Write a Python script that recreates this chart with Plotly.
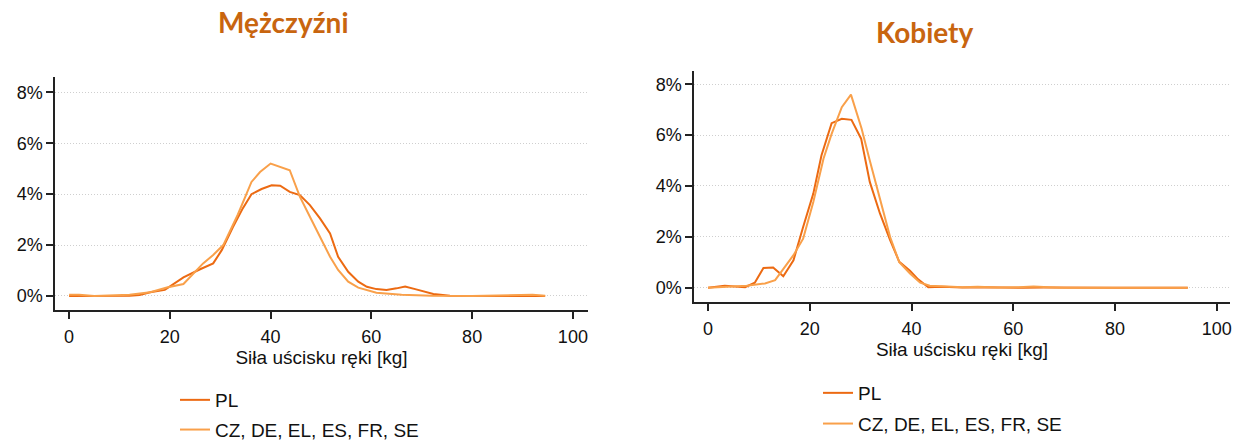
import plotly.graph_objects as go

# ---- Data ----
men_pl_x = [0, 4, 8, 12, 14, 16.1, 19, 22.7, 26, 28.6, 30.3, 32.5, 34.5, 36.2, 38.2, 40.2, 41.9, 43.8,
            45.8, 47.8, 49.8, 51.8, 53.4, 55.4, 57.4, 59.1, 61, 63, 65, 66.7, 68.7, 70.5, 72.3, 75.6,
            80, 86, 90, 94.5]
men_pl_y = [0, 0, 0, 0.01, 0.04, 0.15, 0.24, 0.73, 1.05, 1.28, 1.8, 2.7, 3.45, 4.0, 4.2, 4.35, 4.33, 4.09,
            3.96, 3.57, 3.05, 2.46, 1.54, 0.95, 0.56, 0.36, 0.27, 0.24, 0.3, 0.37, 0.27, 0.18, 0.08, 0.01,
            0, 0, 0.01, 0]

men_oth_x = [0, 2, 5, 8, 12, 16.1, 19.4, 22.7, 26.6, 28.6, 30.6, 33.5, 36.2, 37.9, 40, 43.8, 45.8, 47.8,
             49.8, 51.8, 53.4, 55.4, 57.4, 61, 66, 72, 80, 86, 88, 92, 94.5]
men_oth_y = [0.05, 0.05, 0.0, 0.01, 0.05, 0.15, 0.33, 0.47, 1.28, 1.61, 2.0, 3.2, 4.48, 4.87, 5.2, 4.94, 3.9, 3.11,
             2.33, 1.54, 1.02, 0.56, 0.33, 0.13, 0.05, 0.01, 0, 0.02, 0.05, 0.05, 0.01]

women_pl_x = [0, 3.3, 7.3, 9.2, 10.9, 12.8, 14.8, 16.8, 18.7, 20.7, 22.3, 24.3, 26.3, 28.2, 30.1, 31.8,
              33.8, 35.8, 37.6, 39.7, 41.3, 43.3, 46, 50, 54, 58, 62, 66, 70, 80, 94.3]
women_pl_y = [0, 0.08, 0.02, 0.2, 0.78, 0.8, 0.45, 1.08, 2.39, 3.7, 5.2, 6.47, 6.64, 6.6, 5.86, 4.16,
              2.92, 1.87, 1.02, 0.67, 0.33, 0.02, 0.04, 0.01, 0.02, 0, 0, 0.01, 0, 0, 0]

women_oth_x = [0, 3.3, 7.6, 11.2, 13.2, 16.8, 18.7, 20.7, 22.7, 24.3, 26.3, 28.1, 30.2, 31.8, 33.8, 35.8,
               37.6, 39.7, 41.7, 43.6, 47, 50, 53, 57, 61, 64, 67, 70, 80, 94.3]
women_oth_y = [0, 0.03, 0.08, 0.17, 0.3, 1.28, 1.93, 3.37, 5.07, 6.05, 7.1, 7.59, 6.25, 5.0, 3.5, 1.99,
               1.0, 0.56, 0.2, 0.08, 0.05, 0.02, 0.04, 0.01, 0.02, 0.05, 0.02, 0, 0, 0]

series_names = ["PL", "CZ, DE, EL, ES, FR, SE"]
panel_titles = ["Mężczyźni", "Kobiety"]
x_title = "Siła uścisku ręki [kg]"
x_ticks = [0, 20, 40, 60, 80, 100]
y_ticks = [0, 2, 4, 6, 8]
y_tick_labels = ["0%", "2%", "4%", "6%", "8%"]

# ---- Styling ----
W, H = 1237, 441
PL_COLOR = "#EC6A12"
OTH_COLOR = "#F9A04A"
TITLE_COLOR = "#C8650F"
FONT = "Liberation Sans, Arial, sans-serif"
TXT = "#111111"

fig = go.Figure()

def add(x, y, name, color, xa, ya, legend):
    fig.add_trace(go.Scatter(x=x, y=y, mode="lines", name=name,
                             line=dict(color=color, width=2),
                             xaxis=xa, yaxis=ya, legend=legend,
                             legendgroup=legend + name))

add(men_pl_x, men_pl_y, series_names[0], PL_COLOR, "x", "y", "legend")
add(men_oth_x, men_oth_y, series_names[1], OTH_COLOR, "x", "y", "legend")
add(women_pl_x, women_pl_y, series_names[0], PL_COLOR, "x2", "y2", "legend2")
add(women_oth_x, women_oth_y, series_names[1], OTH_COLOR, "x2", "y2", "legend2")

def px_x(p):
    return p / W

def px_y(p):
    return 1 - p / H

fig.update_layout(
    width=W, height=H, margin=dict(l=0, r=0, t=0, b=0, autoexpand=False),
    paper_bgcolor="white", plot_bgcolor="white",
    font=dict(family=FONT, size=18, color=TXT),
    xaxis=dict(domain=[px_x(55), px_x(588)], range=[-2.8, 103], anchor="y"),
    yaxis=dict(domain=[px_y(310), px_y(77)], range=[-0.55, 8.6], anchor="x"),
    xaxis2=dict(domain=[px_x(694), px_x(1230)], range=[-2.75, 102.6], anchor="y2"),
    yaxis2=dict(domain=[px_y(302), px_y(71)], range=[-0.56, 8.52], anchor="x2"),
    legend=dict(x=px_x(175), y=px_y(381), xanchor="left", yanchor="top",
                traceorder="grouped", tracegroupgap=2,
                font=dict(family=FONT, size=19, color=TXT), bgcolor="rgba(0,0,0,0)"),
    legend2=dict(x=px_x(818), y=px_y(374), xanchor="left", yanchor="top",
                 traceorder="grouped", tracegroupgap=3,
                 font=dict(family=FONT, size=19, color=TXT), bgcolor="rgba(0,0,0,0)"),
    annotations=[
        dict(text=f"<b>{panel_titles[0]}</b>", x=px_x(283), y=px_y(22), xref="paper", yref="paper",
             showarrow=False, xanchor="center", yanchor="middle",
             font=dict(family="Lato, sans-serif", size=28, color=TITLE_COLOR)),
        dict(text=f"<b>{panel_titles[1]}</b>", x=px_x(924), y=px_y(32), xref="paper", yref="paper",
             showarrow=False, xanchor="center", yanchor="middle",
             font=dict(family="Lato, sans-serif", size=28, color=TITLE_COLOR)),
    ],
)

fig.update_xaxes(showline=True, linecolor="#222222", linewidth=1.5, ticks="outside",
                 ticklen=7, tickwidth=1.5, tickcolor="#222222",
                 tickmode="array", tickvals=x_ticks, ticklabelstandoff=3,
                 tickfont=dict(family=FONT, size=18, color=TXT),
                 showgrid=False, zeroline=False,
                 title=dict(text=x_title, font=dict(family=FONT, size=19, color=TXT), standoff=2))
fig.update_yaxes(showline=True, linecolor="#222222", linewidth=1.5, ticks="outside",
                 ticklen=7, tickwidth=1.5, tickcolor="#222222",
                 tickmode="array", tickvals=y_ticks, ticktext=y_tick_labels,
                 tickfont=dict(family=FONT, size=18, color=TXT),
                 showgrid=True, gridcolor="#CFCFCF", griddash="1px,2px", gridwidth=1,
                 zeroline=False)
fig.update_layout(xaxis2_title_standoff=0)

fig.write_html("out.html")
